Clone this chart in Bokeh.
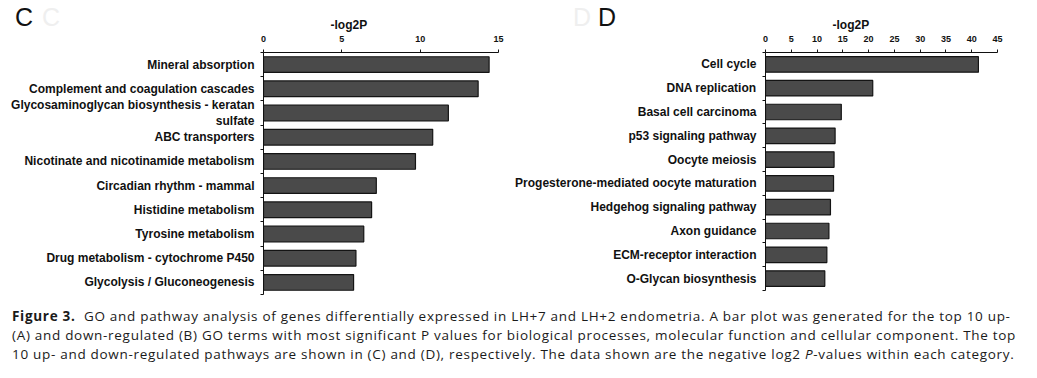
from bokeh.plotting import figure
from bokeh.models import Range1d, FixedTicker, Div
from bokeh.layouts import column, row
from bokeh.embed import file_html
from bokeh.resources import INLINE

# ---- data ----
c_terms = [
    "Mineral absorption",
    "Complement and coagulation cascades",
    "Glycosaminoglycan biosynthesis - keratan\nsulfate",
    "ABC transporters",
    "Nicotinate and nicotinamide metabolism",
    "Circadian rhythm - mammal",
    "Histidine metabolism",
    "Tyrosine metabolism",
    "Drug metabolism - cytochrome P450",
    "Glycolysis / Gluconeogenesis",
]
c_values = [14.4, 13.7, 11.8, 10.8, 9.7, 7.2, 6.9, 6.4, 5.9, 5.75]
c_xticks = [0, 5, 10, 15]

d_terms = [
    "Cell cycle",
    "DNA replication",
    "Basal cell carcinoma",
    "p53 signaling pathway",
    "Oocyte meiosis",
    "Progesterone-mediated oocyte maturation",
    "Hedgehog signaling pathway",
    "Axon guidance",
    "ECM-receptor interaction",
    "O-Glycan biosynthesis",
]
d_values = [41.3, 20.8, 14.7, 13.5, 13.3, 13.2, 12.6, 12.3, 11.9, 11.5]
d_xticks = [0, 5, 10, 15, 20, 25, 30, 35, 40, 45]

x_title = "-log2P"
panel_letters = ["C", "D"]

caption_lines = [
    "<b>Figure 3.</b>&nbsp; GO and pathway analysis of genes differentially expressed in LH+7 and LH+2 endometria. A bar plot was generated for the top 10 up-",
    "(A) and down-regulated (B) GO terms with most significant P values for biological processes, molecular function and cellular component. The top",
    "10 up- and down-regulated pathways are shown in (C) and (D), respectively. The data shown are the negative log2 <i>P</i>-values within each category.",
]

FONT = "Liberation Sans"


def make_panel(terms, values, xticks, frame_w, frame_h, b_left, b_right, b_bottom):
    n = len(terms)
    ypos = [i + 0.5 for i in range(n)]
    p = figure(
        frame_width=frame_w, frame_height=frame_h,
        x_range=Range1d(xticks[0], xticks[-1]),
        y_range=Range1d(n, 0),
        x_axis_location="above",
        output_backend="svg", toolbar_location=None,
        min_border_left=b_left, min_border_right=b_right,
        min_border_top=52, min_border_bottom=b_bottom,
        background_fill_color="white", border_fill_color=None,
    )
    p.outline_line_color = None
    p.grid.visible = False

    p.hbar(y=ypos, left=0, right=values, height=0.65,
           fill_color="#4a4a4a", line_color="#141414", line_width=1.2)

    # top x axis
    xa = p.xaxis[0]
    xa.ticker = FixedTicker(ticks=xticks, minor_ticks=[])
    xa.major_tick_out = 3
    xa.major_tick_in = 0
    xa.minor_tick_out = 0
    xa.minor_tick_in = 0
    xa.major_label_standoff = 8
    xa.major_label_text_font = FONT
    xa.major_label_text_font_style = "bold"
    xa.major_label_text_font_size = "9px"
    xa.major_label_text_color = "#111111"
    xa.axis_line_color = "#111111"
    xa.major_tick_line_color = "#111111"

    # left axis with labels at category centres and ticks at boundaries
    ya = p.yaxis[0]
    ya.ticker = FixedTicker(ticks=ypos, minor_ticks=list(range(n + 1)))
    ya.major_label_overrides = {y: t for y, t in zip(ypos, terms)}
    ya.major_tick_out = 0
    ya.major_tick_in = 0
    ya.minor_tick_out = 3
    ya.minor_tick_in = 0
    ya.major_label_standoff = 6
    ya.major_label_text_font = FONT
    ya.major_label_text_font_style = "bold"
    ya.major_label_text_font_size = "12px"
    ya.major_label_text_color = "#111111"
    ya.axis_line_color = "#111111"
    ya.minor_tick_line_color = "#111111"

    # axis title (offset to the left of centre like in the reference)
    p.title.text = x_title
    p.title.align = "left"
    p.title.offset = 67
    p.title.text_font = FONT
    p.title.text_font_style = "bold"
    p.title.text_font_size = "12px"
    p.title.text_color = "#111111"
    p.title.standoff = 2
    return p


pc = make_panel(c_terms, c_values, c_xticks, 235, 242, 263, 14, 6)
pd_ = make_panel(d_terms, d_values, d_xticks, 232, 238, 253, 20, 10)

# panel letters overlaid on the top-left corner of each panel
letter_style = "position:absolute;top:2px;font-family:'Liberation Sans',sans-serif;font-size:25px;line-height:30px;"
letters = Div(
    text=(
        '<div style="position:relative;width:1029px;height:32px;">'
        f'<span style="{letter_style}left:15px;color:#111111;">{panel_letters[0]}</span>'
        f'<span style="{letter_style}left:42px;color:#efefef;">{panel_letters[0]}</span>'
        f'<span style="{letter_style}left:573px;color:#efefef;">{panel_letters[1]}</span>'
        f'<span style="{letter_style}left:598px;color:#111111;">{panel_letters[1]}</span>'
        '</div>'
    ),
    width=1029, height=32,
    margin=(0, 0, -32, 0),
)

caption = Div(
    text="<br>".join(caption_lines),
    width=1021,
    margin=(7, 0, 0, 12),
    styles={
        "font-family": "'Open Sans', sans-serif",
        "font-size": "13.5px",
        "letter-spacing": "0.7px",
        "line-height": "19px",
        "color": "#1a1a1a",
        "white-space": "nowrap",
    },
)

layout = column(letters, row(pc, pd_), caption)

open("out.html", "w").write(file_html(layout, INLINE))
